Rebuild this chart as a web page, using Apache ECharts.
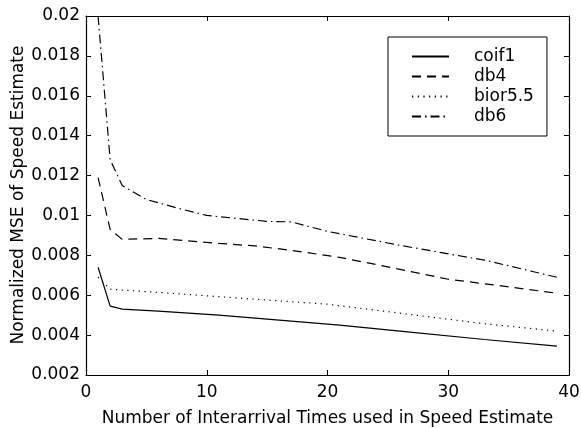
<!DOCTYPE html>
<html>
<head>
<meta charset="utf-8">
<script src="https://cdn.jsdelivr.net/npm/echarts@6/dist/echarts.min.js"></script>
<style>html,body{margin:0;padding:0;background:#fff}#c{width:581px;height:428px}</style>
</head>
<body>
<div id="c"></div>
<script>
var seriesNames = ['coif1', 'db4', 'bior5.5', 'db6'];
var coif1X = [1, 2, 3, 6, 11, 17, 21, 26, 33, 39];
var coif1Y = [0.0074, 0.00545, 0.0053, 0.0052, 0.0050, 0.0047, 0.0045, 0.0042, 0.00378, 0.00345];
var db4X = [1, 2, 3, 6, 11, 14, 17, 21, 26, 30, 34, 39];
var db4Y = [0.0119, 0.0093, 0.0088, 0.00885, 0.0086, 0.00847, 0.00825, 0.0079, 0.0073, 0.0068, 0.0065, 0.0061];
var biorX = [1, 2, 7, 14, 20, 26, 33, 39];
var biorY = [0.0069, 0.0063, 0.0061, 0.0058, 0.00555, 0.0051, 0.00457, 0.0042];
var db6X = [1, 2, 3, 5, 8, 10, 15, 17, 20, 26, 33, 39];
var db6Y = [0.0200, 0.0128, 0.0115, 0.0108, 0.0103, 0.0100, 0.0097, 0.00968, 0.0092, 0.0085, 0.00776, 0.0069];
var xTicks = [0, 10, 20, 30, 40];
var yTicks = [0.002, 0.004, 0.006, 0.008, 0.01, 0.012, 0.014, 0.016, 0.018, 0.02];
var xTitle = 'Number of Interarrival Times used in Speed Estimate';
var yTitle = 'Normalized MSE of Speed Estimate';

function pairs(xs, ys) { return xs.map(function (x, i) { return [x, ys[i]]; }); }
var styles = [
  { type: 'solid', width: 1.2 },
  { type: [9, 6], width: 1.2 },
  { type: [1.2, 4.5], width: 1.2 },
  { type: [9, 4, 1.5, 4], width: 1.2 }
];
var datas = [pairs(coif1X, coif1Y), pairs(db4X, db4Y), pairs(biorX, biorY), pairs(db6X, db6Y)];

var font = 'DejaVu Sans, Liberation Sans, Arial, sans-serif';
var fs = 17;
var chart = echarts.init(document.getElementById('c'), null, { renderer: 'canvas' });
var axisLine = { show: true, onZero: false, lineStyle: { color: '#000', width: 1.2 } };
chart.setOption({
  backgroundColor: '#fff',
  animation: false,
  grid: { left: 86, right: 12, top: 16, bottom: 53, containLabel: false, outerBoundsMode: 'none' },
  graphic: [{
    type: 'text', x: 19, y: 195, rotation: Math.PI / 2,
    style: { text: yTitle, fontFamily: font, fontSize: fs, fill: '#000', align: 'center', verticalAlign: 'middle' }
  }],
  legend: {
    orient: 'vertical',
    left: 388, top: 37,
    data: seriesNames,
    itemWidth: 37, itemHeight: 14, itemGap: 3,
    borderColor: '#000', borderWidth: 1,
    padding: [11, 13, 11, 23],
    backgroundColor: '#fff',
    itemStyle: { opacity: 0 },
    textStyle: { fontFamily: font, fontSize: fs, color: '#000', padding: [0, 0, 0, 20] }
  },
  xAxis: [{
    type: 'value', min: 0, max: 40, interval: 10,
    name: xTitle,
    nameLocation: 'middle', nameGap: 35,
    nameTextStyle: { fontFamily: font, fontSize: fs, color: '#000' },
    axisLine: axisLine,
    axisTick: { show: true, inside: true, length: 5, lineStyle: { color: '#000' } },
    axisLabel: { fontFamily: font, fontSize: fs, color: '#000', margin: 9,
      formatter: function (v) { return xTicks.indexOf(v) >= 0 ? String(v) : ''; } },
    splitLine: { show: false }
  }, {
    type: 'value', min: 0, max: 40, interval: 10, position: 'top',
    axisLine: axisLine,
    axisTick: { show: true, inside: true, length: 5, lineStyle: { color: '#000' } },
    axisLabel: { show: false }, splitLine: { show: false }
  }],
  yAxis: [{
    type: 'value', min: 0.002, max: 0.02, interval: 0.002,
    axisLine: axisLine,
    axisTick: { show: true, inside: true, length: 5, lineStyle: { color: '#000' } },
    axisLabel: { fontFamily: font, fontSize: fs, color: '#000', margin: 6,
      formatter: function (v) {
        var r = parseFloat(v.toFixed(3));
        for (var i = 0; i < yTicks.length; i++) if (Math.abs(yTicks[i] - r) < 1e-9) return String(yTicks[i]);
        return '';
      } },
    splitLine: { show: false }
  }, {
    type: 'value', min: 0.002, max: 0.02, interval: 0.002, position: 'right',
    axisLine: axisLine,
    axisTick: { show: true, inside: true, length: 5, lineStyle: { color: '#000' } },
    axisLabel: { show: false }, splitLine: { show: false }
  }],
  series: seriesNames.map(function (n, i) {
    return {
      name: n, type: 'line', data: datas[i], symbol: 'none', showSymbol: false,
      xAxisIndex: 0, yAxisIndex: 0,
      lineStyle: { color: '#000', width: styles[i].width, type: styles[i].type },
      itemStyle: { color: '#000' }
    };
  })
});
</script>
</body>
</html>
